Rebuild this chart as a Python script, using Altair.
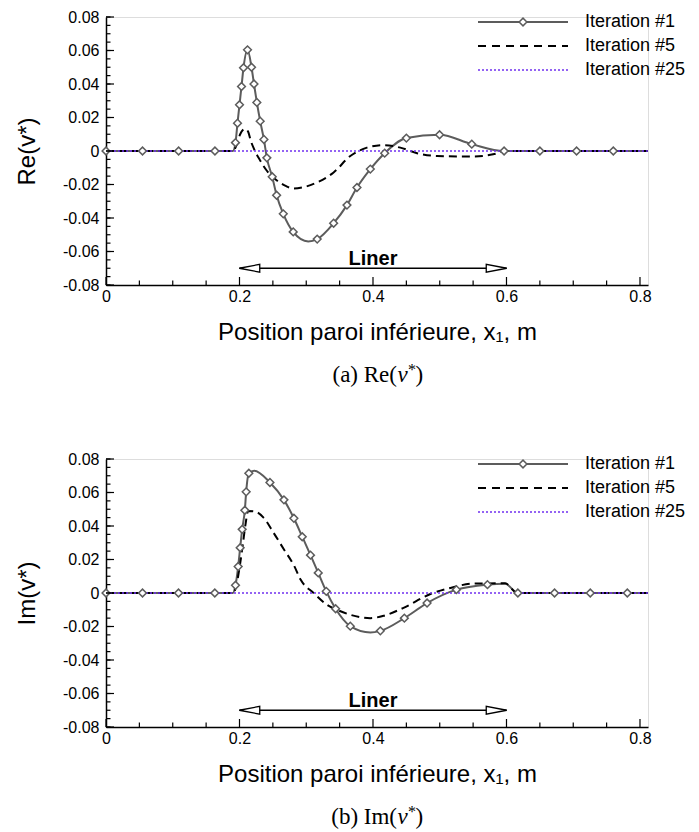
import altair as alt
import pandas as pd
import numpy as np

# ---------------- data ----------------
# Panel (a): Re(v*)
re1_x = [0.0, 0.0547, 0.1088, 0.1632, 0.190, 0.194, 0.197, 0.200, 0.203, 0.206, 0.212,
         0.218, 0.2217, 0.226, 0.231, 0.2366, 0.241, 0.249, 0.2556, 0.2656, 0.2805, 0.303,
         0.3164, 0.341, 0.361, 0.376, 0.396, 0.4175, 0.450, 0.4997, 0.548, 0.5964,
         0.650, 0.705, 0.760, 0.812]
re1_y = [0, 0, 0, 0, 0, 0.005, 0.0166, 0.0276, 0.0385, 0.0497, 0.0604,
         0.050, 0.040, 0.029, 0.0178, 0.0069, -0.0041, -0.0154, -0.0264, -0.0375, -0.0483, -0.054,
         -0.0526, -0.0431, -0.0323, -0.0218, -0.0108, -0.0013, 0.0077, 0.0097, 0.0041, 0.0,
         0, 0, 0, 0]
re1_mark = [1, 1, 1, 1, 0, 1, 1, 1, 1, 1, 1,
            1, 1, 1, 1, 1, 1, 1, 1, 1, 1, 0,
            1, 1, 1, 1, 1, 1, 1, 1, 1, 1,
            1, 1, 1, 0]

re5_x = [0.0, 0.190, 0.196, 0.201, 0.205, 0.209, 0.213, 0.217, 0.222, 0.230, 0.241, 0.256,
         0.270, 0.281, 0.297, 0.316, 0.341, 0.366, 0.391, 0.416, 0.441, 0.466, 0.496, 0.548,
         0.580, 0.600, 0.812]
re5_y = [0, 0, 0.004, 0.010, 0.0125, 0.0132, 0.0115, 0.006, 0.001, -0.005, -0.0118, -0.0176,
         -0.021, -0.0224, -0.0215, -0.0188, -0.0128, -0.003, 0.002, 0.0035, 0.002, -0.0013, -0.003, -0.0033,
         -0.002, 0.0, 0]

# Panel (b): Im(v*)
im1_x = [0.0, 0.0547, 0.1086, 0.163, 0.190, 0.194, 0.198, 0.201, 0.204, 0.208, 0.210, 0.214,
         0.222, 0.2456, 0.2666, 0.2815, 0.294, 0.3064, 0.318, 0.330, 0.344, 0.366, 0.396,
         0.411, 0.447, 0.481, 0.525, 0.5715, 0.598, 0.617, 0.672, 0.7255, 0.781, 0.812]
im1_y = [0, 0, 0, 0, 0, 0.0046, 0.0158, 0.027, 0.038, 0.0494, 0.0604, 0.0715,
         0.073, 0.066, 0.0556, 0.0446, 0.0336, 0.0226, 0.012, 0.001, -0.0094, -0.0198, -0.0236,
         -0.0226, -0.015, -0.006, 0.002, 0.005, 0.0055, 0, 0, 0, 0, 0]
im1_mark = [1, 1, 1, 1, 0, 1, 1, 1, 1, 1, 1, 1,
            0, 1, 1, 1, 1, 1, 1, 1, 1, 1, 0,
            1, 1, 1, 1, 1, 0, 1, 1, 1, 1, 0]

im5_x = [0.0, 0.190, 0.195, 0.200, 0.205, 0.209, 0.213, 0.2217, 0.236, 0.251, 0.2666, 0.2815,
         0.2915, 0.311, 0.331, 0.346, 0.366, 0.396, 0.416, 0.445, 0.486, 0.516, 0.550, 0.598,
         0.616, 0.812]
im5_y = [0, 0, 0.004, 0.015, 0.029, 0.041, 0.049, 0.0488, 0.045, 0.036, 0.026, 0.0165,
         0.008, 0.0, -0.007, -0.010, -0.013, -0.015, -0.0136, -0.009, -0.0006, 0.003, 0.0056, 0.0058,
         0, 0]

it25_x = [0.0, 0.812]
it25_y = [0.0, 0.0]

legend_labels = ["Iteration #1", "Iteration #5", "Iteration #25"]
x_major = [0, 0.2, 0.4, 0.6, 0.8]
x_minor = [0.05, 0.1, 0.15, 0.25, 0.3, 0.35, 0.45, 0.5, 0.55, 0.65, 0.7, 0.75]
y_major = [-0.08, -0.06, -0.04, -0.02, 0, 0.02, 0.04, 0.06, 0.08]
y_minor = np.round(np.arange(-0.08, 0.0801, 0.005), 3).tolist()

liner_start, liner_end, liner_level, liner_label = 0.2, 0.6, -0.07, "Liner"
x_title = "Position paroi inférieure, x\u2081, m"

# ---------------- styling ----------------
W, H = 542, 268
XMAX = 0.812
FONT = "Liberation Sans"
SERIF = "Liberation Serif"
GRAY = "#5c5c5c"
PURPLE = "#7030f0"

xs = alt.Scale(domain=[0, XMAX], nice=False, zero=False)
ys = alt.Scale(domain=[-0.08, 0.08], nice=False, zero=False)

xaxis = alt.Axis(values=x_major, ticks=False, grid=False, domainColor="black", domainWidth=1.5,
                 labelFont=FONT, labelFontSize=16, labelColor="black", labelPadding=3,
                 labelFlush=False, labelOverlap=False,
                 labelExpr="format(datum.value, '.1~f')",
                 title=x_title, titleFont=FONT, titleFontSize=24, titleFontWeight="normal",
                 titleColor="black", titlePadding=16)


def yaxis(title):
    return alt.Axis(values=y_major, ticks=False, grid=False, domainColor="black", domainWidth=1.5,
                    labelFont=FONT, labelFontSize=16, labelColor="black", labelPadding=7,
                    labelOverlap=False,
                    labelExpr="datum.value < -0.0001 ? '-' + format(-datum.value, '.2~f') : format(datum.value, '.2~f')",
                    title=title, titleFont=FONT, titleFontSize=24, titleFontWeight="normal",
                    titleColor="black", titlePadding=23)


def panel(x1, y1, m1, x5, y5, ytitle, cap_prefix):
    ya = yaxis(ytitle)
    X = lambda f: alt.X(f, type="quantitative", scale=xs, axis=xaxis)
    Y = lambda f: alt.Y(f, type="quantitative", scale=ys, axis=ya)

    d1 = pd.DataFrame({"x": x1, "y": y1, "m": m1})
    d5 = pd.DataFrame({"x": x5, "y": y5})
    d25 = pd.DataFrame({"x": it25_x, "y": it25_y})

    line1 = alt.Chart(d1).mark_line(color=GRAY, strokeWidth=2, interpolate="monotone").encode(
        x=X("x"), y=Y("y"))
    pts1 = alt.Chart(d1).transform_filter("datum.m == 1").mark_point(
        shape="diamond", size=60, filled=True, fill="white", stroke=GRAY, strokeWidth=1.5,
        opacity=1).encode(x=X("x"), y=Y("y"))
    line5 = alt.Chart(d5).mark_line(color="black", strokeWidth=2, strokeDash=[8, 5],
                                    interpolate="monotone").encode(x=X("x"), y=Y("y"))
    line25 = alt.Chart(d25).mark_line(color=PURPLE, strokeWidth=1.5, strokeDash=[2, 2]).encode(
        x=X("x"), y=Y("y"))

    # inward ticks
    xt_major = alt.Chart(pd.DataFrame({"t": x_major})).mark_rule(color="black", strokeWidth=1.2).encode(
        x=X("t"), y=alt.value(H), y2=alt.value(H - 8))
    xt_minor = alt.Chart(pd.DataFrame({"t": x_minor})).mark_rule(color="black", strokeWidth=1.2).encode(
        x=X("t"), y=alt.value(H), y2=alt.value(H - 4.5))
    yt_major = alt.Chart(pd.DataFrame({"t": y_major})).mark_rule(color="black", strokeWidth=1.2).encode(
        y=Y("t"), x=alt.value(0), x2=alt.value(8))
    yt_minor = alt.Chart(pd.DataFrame({"t": y_minor})).mark_rule(color="black", strokeWidth=1.2).encode(
        y=Y("t"), x=alt.value(0), x2=alt.value(4.5))

    # liner annotation
    dl = pd.DataFrame({"a": [liner_start], "b": [liner_end], "y": [liner_level],
                       "mid": [(liner_start + liner_end) / 2], "lab": [liner_label]})
    arrow = alt.Chart(dl).mark_rule(color="black", strokeWidth=1.5).encode(
        x=X("a"), x2="b", y=Y("y"))
    head_l = alt.Chart(dl).mark_point(shape="M -1 0 L 1 -0.38 L 1 0.38 Z", size=420, filled=True,
                                      fill="white", stroke="black", strokeWidth=1.3, opacity=1,
                                      xOffset=10).encode(x=X("a"), y=Y("y"))
    head_r = alt.Chart(dl).mark_point(shape="M 1 0 L -1 -0.38 L -1 0.38 Z", size=420, filled=True,
                                      fill="white", stroke="black", strokeWidth=1.3, opacity=1,
                                      xOffset=-10).encode(x=X("b"), y=Y("y"))
    liner_txt = alt.Chart(dl).mark_text(font=FONT, fontSize=20, fontWeight="bold", color="black",
                                        baseline="alphabetic", dy=-3).encode(
        x=X("mid"), y=Y("y"), text="lab")

    # legend (manual)
    leg_y = [5, 29, 53]
    lx0, lx1, ltx = 372, 462, 479
    one = pd.DataFrame({"k": [0]})
    leg = []
    leg.append(alt.Chart(one).mark_rule(color=GRAY, strokeWidth=2).encode(
        x=alt.value(lx0), x2=alt.value(lx1), y=alt.value(leg_y[0])))
    leg.append(alt.Chart(one).mark_point(shape="diamond", size=60, filled=True, fill="white",
                                         stroke=GRAY, strokeWidth=1.5, opacity=1).encode(
        x=alt.value((lx0 + lx1) / 2), y=alt.value(leg_y[0])))
    leg.append(alt.Chart(one).mark_rule(color="black", strokeWidth=2, strokeDash=[8, 6]).encode(
        x=alt.value(lx0), x2=alt.value(lx1), y=alt.value(leg_y[1])))
    leg.append(alt.Chart(one).mark_rule(color=PURPLE, strokeWidth=1.5, strokeDash=[2, 2]).encode(
        x=alt.value(lx0), x2=alt.value(lx1), y=alt.value(leg_y[2])))
    for lab, yy in zip(legend_labels, leg_y):
        leg.append(alt.Chart(pd.DataFrame({"t": [lab]})).mark_text(
            font=FONT, fontSize=18, color="black", align="left", baseline="middle").encode(
            x=alt.value(ltx), y=alt.value(yy), text="t"))

    # caption  e.g. "(a) Re(v*)"
    J = 291
    cy = H + 97
    cap = [
        alt.Chart(pd.DataFrame({"t": [cap_prefix]})).mark_text(
            font=SERIF, fontSize=23, color="black", align="right", baseline="alphabetic").encode(
            x=alt.value(J), y=alt.value(cy), text="t"),
        alt.Chart(pd.DataFrame({"t": ["v"]})).mark_text(
            font=SERIF, fontSize=23, fontStyle="italic", color="black", align="left",
            baseline="alphabetic").encode(x=alt.value(J + 0.5), y=alt.value(cy), text="t"),
        alt.Chart(pd.DataFrame({"t": ["*"]})).mark_text(
            font=SERIF, fontSize=16, color="black", align="left", baseline="alphabetic").encode(
            x=alt.value(J + 11), y=alt.value(cy - 7), text="t"),
        alt.Chart(pd.DataFrame({"t": [")"]})).mark_text(
            font=SERIF, fontSize=23, color="black", align="left", baseline="alphabetic").encode(
            x=alt.value(J + 18.5), y=alt.value(cy), text="t"),
    ]

    return alt.layer(line1, line5, line25, pts1, xt_major, xt_minor, yt_major, yt_minor,
                     arrow, head_l, head_r, liner_txt, *leg, *cap).properties(width=W, height=H)


top = panel(re1_x, re1_y, re1_mark, re5_x, re5_y, "Re(v*)", "(a) Re(")
bottom = panel(im1_x, im1_y, im1_mark, im5_x, im5_y, "Im(v*)", "(b) Im(")

chart = alt.vconcat(top, bottom, spacing=62).properties(
    padding={"left": 7, "top": 0, "right": 0, "bottom": 0}
).configure_view(strokeWidth=0, stroke="transparent").configure(background="white")

chart.save("out.html", embed_options={"renderer": "svg", "actions": False})
